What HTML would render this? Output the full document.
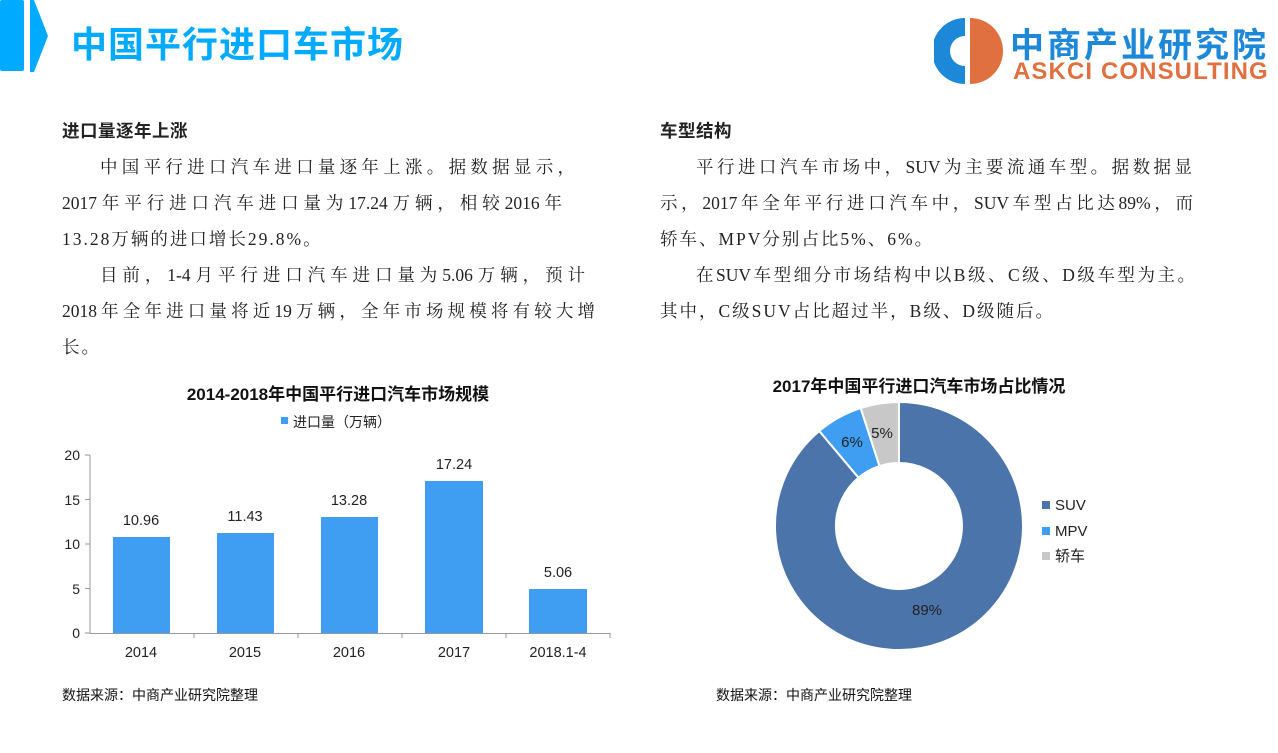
<!DOCTYPE html>
<html><head><meta charset="utf-8"><style>
body{margin:0;width:1278px;height:753px;background:#fff;position:relative;overflow:hidden;font-family:"Liberation Serif","Noto Serif CJK SC",serif;}
.t{position:absolute;font-size:17.5px;color:#222;white-space:nowrap;line-height:36px;letter-spacing:2px;}
.j{white-space:normal;text-align:justify;text-align-last:justify;letter-spacing:0;}
.h{font-family:"Liberation Sans","Noto Sans CJK SC",sans-serif;font-weight:bold;letter-spacing:0.5px;}
.s{position:absolute;font-family:"Liberation Sans","Noto Sans CJK SC",sans-serif;font-size:14px;color:#111;}
</style></head><body>
<div style="position:absolute;left:0;top:0;width:24px;height:71px;background:#00aaff;border-radius:2px"></div>
<svg style="position:absolute;left:28px;top:0" width="22" height="73"><polygon points="2,0 6,0 20,36 6,72 2,72" fill="#00aaff"/></svg>
<div style="position:absolute;left:71px;top:16px;font-family:'Liberation Sans','Noto Sans CJK SC',sans-serif;font-weight:bold;font-size:36px;color:#00aaff;letter-spacing:1px">中国平行进口车市场</div>
<svg style="position:absolute;left:934px;top:16px" width="70" height="70"><path d="M31,2 A33,33 0 1 0 31,68 L31,50 A15,15 0 1 1 31,20 Z" fill="#1e88d8"/><path d="M36,2 A33,33 0 0 1 36,68 Z" fill="#e07040"/></svg>
<div style="position:absolute;left:1010px;top:18px;font-family:'Liberation Sans','Noto Sans CJK SC',sans-serif;font-weight:bold;font-size:34px;color:#1e88d8;letter-spacing:3px">中商产业研究院</div>
<div style="position:absolute;left:1013px;top:58px;font-family:'Liberation Sans',sans-serif;font-weight:bold;font-size:24px;color:#e07040;letter-spacing:1.1px">ASKCI CONSULTING</div>

<div class="t h" style="left:62px;top:113px">进口量逐年上涨</div>
<div class="t j" style="left:100px;top:149px;width:475px">中国平行进口汽车进口量逐年上涨。据数据显示，</div>
<div class="t j" style="left:62px;top:185px;width:500px">2017年平行进口汽车进口量为17.24万辆，相较2016年</div>
<div class="t" style="left:62px;top:221px">13.28万辆的进口增长29.8%。</div>
<div class="t j" style="left:100px;top:257px;width:485px">目前，1-4月平行进口汽车进口量为5.06万辆，预计</div>
<div class="t j" style="left:62px;top:293px;width:533px">2018年全年进口量将近19万辆，全年市场规模将有较大增</div>
<div class="t" style="left:62px;top:329px">长。</div>

<div class="t h" style="left:660px;top:113px">车型结构</div>
<div class="t j" style="left:696px;top:149px;width:496px">平行进口汽车市场中，SUV为主要流通车型。据数据显</div>
<div class="t j" style="left:660px;top:185px;width:533px">示，2017年全年平行进口汽车中，SUV车型占比达89%，而</div>
<div class="t" style="left:660px;top:221px">轿车、MPV分别占比5%、6%。</div>
<div class="t j" style="left:696px;top:257px;width:499px">在SUV车型细分市场结构中以B级、C级、D级车型为主。</div>
<div class="t" style="left:660px;top:293px">其中，C级SUV占比超过半，B级、D级随后。</div>

<svg style="position:absolute;left:0;top:370px" width="640" height="300" font-family="Liberation Sans, Noto Sans CJK SC, sans-serif">
<text x="338" y="30" text-anchor="middle" font-size="17" font-weight="bold" fill="#111">2014-2018年中国平行进口汽车市场规模</text>
<rect x="281" y="47" width="7" height="7" fill="#3f9ef2"/>
<text x="293" y="57" font-size="14" fill="#222">进口量（万辆）</text>
<g fill="#3f9ef2">
<rect x="113" y="167" width="57" height="96"/><rect x="217" y="163" width="57" height="100"/>
<rect x="321" y="147" width="57" height="116"/><rect x="425" y="111" width="58" height="152"/>
<rect x="529" y="219" width="58" height="44"/></g>
<g stroke="#999" stroke-width="1"><line x1="90" y1="85" x2="90" y2="263"/><line x1="90" y1="263.5" x2="610" y2="263.5"/>
<line x1="85" y1="85" x2="90" y2="85"/><line x1="85" y1="129.5" x2="90" y2="129.5"/><line x1="85" y1="174" x2="90" y2="174"/><line x1="85" y1="218.5" x2="90" y2="218.5"/><line x1="85" y1="263" x2="90" y2="263"/>
<line x1="194" y1="263" x2="194" y2="268"/><line x1="298" y1="263" x2="298" y2="268"/><line x1="402" y1="263" x2="402" y2="268"/><line x1="506" y1="263" x2="506" y2="268"/><line x1="610" y1="263" x2="610" y2="268"/></g>
<g font-size="14" fill="#222" text-anchor="end"><text x="80" y="90">20</text><text x="80" y="135">15</text><text x="80" y="179">10</text><text x="80" y="224">5</text><text x="80" y="268">0</text></g>
<g font-size="14.5" fill="#222" text-anchor="middle"><text x="141" y="287">2014</text><text x="245" y="287">2015</text><text x="349" y="287">2016</text><text x="454" y="287">2017</text><text x="558" y="287">2018.1-4</text>
<text x="141" y="155">10.96</text><text x="245" y="151">11.43</text><text x="349" y="135">13.28</text><text x="454" y="99">17.24</text><text x="558" y="207">5.06</text></g>
</svg>

<svg style="position:absolute;left:740px;top:370px" width="400" height="290" font-family="Liberation Sans, Noto Sans CJK SC, sans-serif">
<text x="179" y="22" text-anchor="middle" font-size="17" font-weight="bold" fill="#111">2017年中国平行进口汽车市场占比情况</text>
<g stroke="#fff" stroke-width="2">
<path d="M159,32 A124,124 0 1 1 79.3,61.0 L118.5,107.7 A63,63 0 1 0 159,93 Z" fill="#4a74aa"/>
<path d="M79.3,61.0 A124,124 0 0 1 120.7,38.1 L139.5,96.1 A63,63 0 0 0 118.5,107.7 Z" fill="#3f9ef2"/>
<path d="M120.7,38.1 A124,124 0 0 1 159,32 L159,93 A63,63 0 0 0 139.5,96.1 Z" fill="#c8c8c8"/></g>
<g font-size="15" fill="#222" text-anchor="middle"><text x="112" y="77">6%</text><text x="142" y="68">5%</text><text x="187" y="245">89%</text></g>
<rect x="302" y="131" width="8" height="8" fill="#4a74aa"/><text x="315" y="140" font-size="15" fill="#222">SUV</text>
<rect x="302" y="157" width="8" height="8" fill="#3f9ef2"/><text x="315" y="166" font-size="15" fill="#222">MPV</text>
<rect x="302" y="182" width="8" height="8" fill="#c8c8c8"/><text x="315" y="191" font-size="15" fill="#222">轿车</text>
</svg>

<div class="s" style="left:62px;top:685px">数据来源：中商产业研究院整理</div>
<div class="s" style="left:716px;top:685px">数据来源：中商产业研究院整理</div>
</body></html>
